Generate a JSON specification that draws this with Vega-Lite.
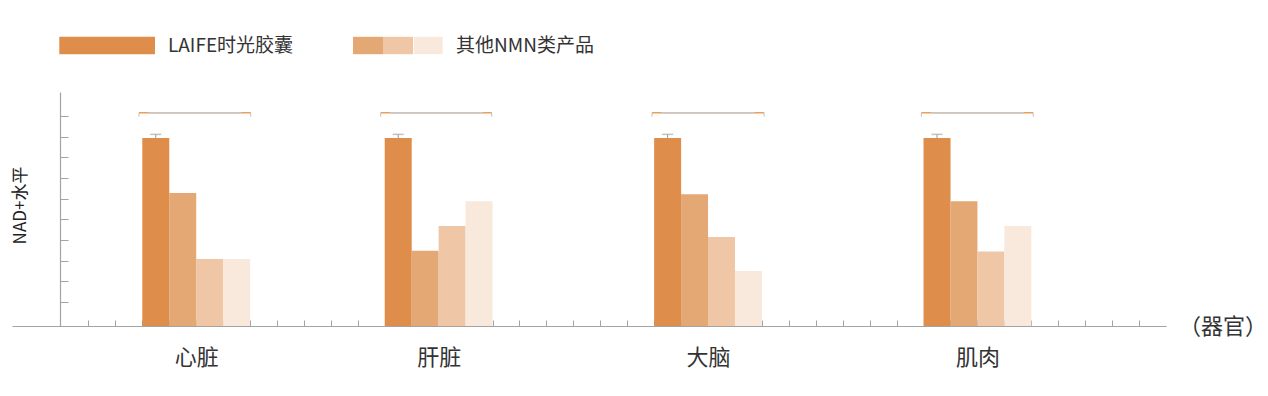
{
  "$schema": "https://vega.github.io/schema/vega-lite/v6.json",
  "width": 1154,
  "height": 234,
  "autosize": {"type": "none"},
  "padding": {"left": 12, "top": 92, "right": 102, "bottom": 70},
  "background": "#ffffff",
  "config": {"view": {"stroke": null}, "font": "Noto Sans CJK SC", "axis": {"grid": false}},
  "datasets": {
    "bars": [
      {"organ": "心脏", "series": "LAIFE时光胶囊", "pos": 3.5, "value": 90.95, "upper": 92.7},
      {"organ": "心脏", "series": "其他NMN类产品A", "pos": 4.5, "value": 64.35},
      {"organ": "心脏", "series": "其他NMN类产品B", "pos": 5.5, "value": 32.4},
      {"organ": "心脏", "series": "其他NMN类产品C", "pos": 6.5, "value": 32.4},
      {"organ": "肝脏", "series": "LAIFE时光胶囊", "pos": 12.5, "value": 90.95, "upper": 92.7},
      {"organ": "肝脏", "series": "其他NMN类产品A", "pos": 13.5, "value": 36.4},
      {"organ": "肝脏", "series": "其他NMN类产品B", "pos": 14.5, "value": 48.4},
      {"organ": "肝脏", "series": "其他NMN类产品C", "pos": 15.5, "value": 60.3},
      {"organ": "大脑", "series": "LAIFE时光胶囊", "pos": 22.5, "value": 90.95, "upper": 92.7},
      {"organ": "大脑", "series": "其他NMN类产品A", "pos": 23.5, "value": 63.7},
      {"organ": "大脑", "series": "其他NMN类产品B", "pos": 24.5, "value": 43.1},
      {"organ": "大脑", "series": "其他NMN类产品C", "pos": 25.5, "value": 26.6},
      {"organ": "肌肉", "series": "LAIFE时光胶囊", "pos": 32.5, "value": 90.95, "upper": 92.7},
      {"organ": "肌肉", "series": "其他NMN类产品A", "pos": 33.5, "value": 60.3},
      {"organ": "肌肉", "series": "其他NMN类产品B", "pos": 34.5, "value": 36.1},
      {"organ": "肌肉", "series": "其他NMN类产品C", "pos": 35.5, "value": 48.4}
    ],
    "brackets": [
      {"organ": "心脏", "x1": 2.877, "x2": 7.023, "level": 103.19},
      {"organ": "肝脏", "x1": 11.85, "x2": 15.97, "level": 103.19},
      {"organ": "大脑", "x1": 21.92, "x2": 26.08, "level": 103.19},
      {"organ": "肌肉", "x1": 31.92, "x2": 36.07, "level": 103.19}
    ]
  },
  "layer": [
    {
      "data": {"name": "bars"},
      "mark": {"type": "bar", "orient": "vertical", "size": 27},
      "encoding": {
        "x": {
          "field": "pos", "type": "quantitative",
          "scale": {"domain": [-1.837, 41.0], "nice": false, "zero": false, "padding": 0},
          "axis": {
            "values": [1,2,3,4,5,6,7,8,9,10,11,12,13,14,15,16,17,18,19,20,21,22,23,24,25,26,27,28,29,30,31,32,33,34,35,36,37,38,39,40],
            "tickCount": 100,
            "tickSize": -6, "tickColor": "#a3a3a3", "tickWidth": 1,
            "domainColor": "#a3a3a3", "domainWidth": 1.2,
            "labelExpr": "datum.value == 5 ? '心脏' : datum.value == 14 ? '肝脏' : datum.value == 24 ? '大脑' : datum.value == 34 ? '肌肉' : ''",
            "labelFontSize": 22, "labelColor": "#333333", "labelPadding": 37, "labelBaseline": "middle",
            "labelOverlap": false, "labelFlush": false, "labelBound": false,
            "title": "（器官）", "titleX": 1210.5, "titleY": 0.5, "titleAlign": "center", "titleBaseline": "middle",
            "titleFontSize": 22, "titleFontWeight": "normal", "titleColor": "#333333"
          }
        },
        "y": {
          "field": "value", "type": "quantitative",
          "scale": {"domain": [0, 113.2], "nice": false, "zero": true, "padding": 0},
          "axis": {
            "values": [11.61, 21.61, 31.61, 41.61, 51.61, 61.61, 71.61, 81.61, 91.61, 101.61],
            "tickCount": 100,
            "tickSize": -8, "offset": -48, "labels": false,
            "tickColor": "#a3a3a3", "tickWidth": 1, "domainColor": "#a3a3a3", "domainWidth": 1.2,
            "title": "NAD+水平", "titleX": -39.5, "titleY": 113, "titleAngle": -90,
            "titleAlign": "center", "titleBaseline": "middle",
            "titleFontSize": 17, "titleFontWeight": "normal", "titleColor": "#222222"
          }
        },
        "color": {
          "field": "series", "type": "nominal",
          "scale": {
            "domain": ["LAIFE时光胶囊", "其他NMN类产品A", "其他NMN类产品B", "其他NMN类产品C"],
            "range": ["#DE8E4A", "#E4A874", "#EFC7A6", "#F9E9DC"]
          },
          "legend": {
            "title": null, "orient": "none", "legendX": 126, "legendY": -61.5, "direction": "horizontal",
            "padding": 0, "symbolSize": 900, "symbolStrokeWidth": 0, "symbolOffset": 0,
            "labelOffset": 0, "columnPadding": 0, "labelFontSize": 19, "labelColor": "#333333", "labelLimit": 400,
            "labelExpr": "datum.value == 'LAIFE时光胶囊' ? 'LAIFE时光胶囊' : datum.value == '其他NMN类产品C' ? '其他NMN类产品' : ''",
            "encode": {
              "symbols": {
                "update": {
                  "shape": {"signal": "datum.value == 'LAIFE时光胶囊' ? 'M-6.247,-0.58H0.133V0.58H-6.247ZM13.31,0' : datum.value == '其他NMN类产品C' ? 'M-1.82,-0.58H0.113V0.58H-1.82Z' : 'M-1,-0.58H1V0.58H-1Z'"}
                }
              }
            }
          }
        }
      }
    },
    {
      "data": {"name": "bars"},
      "transform": [{"filter": "isValid(datum.upper)"}],
      "mark": {"type": "rule", "color": "#9a9a9a", "strokeWidth": 1},
      "encoding": {
        "x": {"field": "pos", "type": "quantitative", "scale": {"domain": [-1.837, 41.0], "nice": false, "zero": false, "padding": 0}},
        "y": {"field": "value", "type": "quantitative", "scale": {"domain": [0, 113.2], "nice": false, "zero": true, "padding": 0}},
        "y2": {"field": "upper"}
      }
    },
    {
      "data": {"name": "bars"},
      "transform": [{"filter": "isValid(datum.upper)"}],
      "mark": {"type": "tick", "orient": "horizontal", "size": 11, "thickness": 1.5, "color": "#a8a8a8"},
      "encoding": {
        "x": {"field": "pos", "type": "quantitative", "scale": {"domain": [-1.837, 41.0], "nice": false, "zero": false, "padding": 0}},
        "y": {"field": "upper", "type": "quantitative", "scale": {"domain": [0, 113.2], "nice": false, "zero": true, "padding": 0}}
      }
    },
    {
      "data": {"name": "brackets"},
      "mark": {"type": "rule", "color": "#E9A05C", "strokeWidth": 1.6},
      "encoding": {
        "x": {"field": "x1", "type": "quantitative", "scale": {"domain": [-1.837, 41.0], "nice": false, "zero": false, "padding": 0}},
        "x2": {"field": "x2"},
        "y": {"field": "level", "type": "quantitative", "scale": {"domain": [0, 113.2], "nice": false, "zero": true, "padding": 0}}
      }
    },
    {
      "data": {"name": "brackets"},
      "mark": {"type": "rule", "color": "#c8c8c8", "strokeWidth": 1.6, "strokeDash": [0, 9.5, 93, 40]},
      "encoding": {
        "x": {"field": "x1", "type": "quantitative", "scale": {"domain": [-1.837, 41.0], "nice": false, "zero": false, "padding": 0}},
        "x2": {"field": "x2"},
        "y": {"field": "level", "type": "quantitative", "scale": {"domain": [0, 113.2], "nice": false, "zero": true, "padding": 0}}
      }
    },
    {
      "data": {"name": "brackets"},
      "transform": [{"fold": ["x1", "x2"], "as": ["end", "xe"]}],
      "mark": {"type": "tick", "orient": "vertical", "size": 4, "thickness": 1, "yOffset": 2, "color": "#a8a8a8"},
      "encoding": {
        "x": {"field": "xe", "type": "quantitative", "scale": {"domain": [-1.837, 41.0], "nice": false, "zero": false, "padding": 0}},
        "y": {"field": "level", "type": "quantitative", "scale": {"domain": [0, 113.2], "nice": false, "zero": true, "padding": 0}}
      }
    }
  ]
}
